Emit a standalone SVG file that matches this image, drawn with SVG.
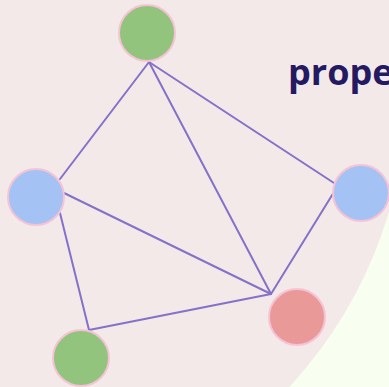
<svg xmlns="http://www.w3.org/2000/svg" width="389" height="387" viewBox="0 0 389 387">
<style>
.edge{stroke:#8471c9;stroke-width:2;fill:none;stroke-linecap:round}
.node{stroke:#f6c3d6;stroke-width:2}
.g{fill:#93c47d}.b{fill:#a4c2f4}.r{fill:#ea9999}
.t{font-family:"Open Sans","Noto Sans",sans-serif;font-weight:700;font-size:36px;fill:#231a63}
</style>
<rect width="389" height="387" fill="#f8fff1"/>
<circle cx="-34" cy="87" r="441" fill="#f3e9e8"/>
<text class="t" x="288" y="85">prope</text>
<g id="connectors">
<line class="edge" x1="149" y1="62" x2="60" y2="179"/>
<line class="edge" x1="149" y1="62" x2="271" y2="294"/>
<line class="edge" x1="149" y1="62" x2="334" y2="183"/>
<line class="edge" x1="64" y1="193" x2="271" y2="294"/>
<line class="edge" x1="60" y1="213" x2="89" y2="330"/>
<line class="edge" x1="89" y1="330" x2="271" y2="294"/>
<line class="edge" x1="334" y1="192" x2="271" y2="294"/>
</g>
<g id="node-top"><circle class="node g" cx="147" cy="33" r="28"/></g>
<g id="node-left"><circle class="node b" cx="36" cy="197" r="28"/></g>
<g id="node-right"><circle class="node b" cx="361" cy="193" r="28"/></g>
<g id="node-red"><circle class="node r" cx="297" cy="317" r="28"/></g>
<g id="node-bottom"><circle class="node g" cx="81" cy="358" r="28"/></g>
</svg>
